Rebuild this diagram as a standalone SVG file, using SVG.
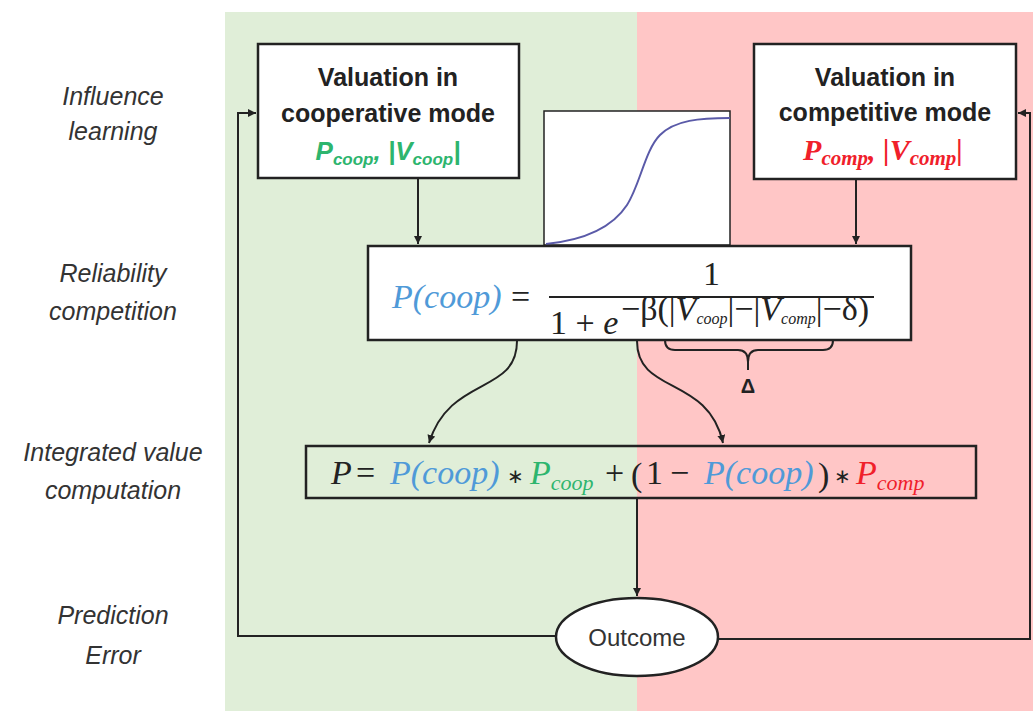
<svg xmlns="http://www.w3.org/2000/svg" width="1033" height="711" viewBox="0 0 1033 711">
<defs>
<marker id="arr" markerUnits="userSpaceOnUse" markerWidth="9" markerHeight="9" refX="8" refY="4" orient="auto">
<path d="M0,0 L8,4 L0,8 z" fill="#222"/>
</marker>
<style>
.box{fill:#fff;stroke:#222;stroke-width:2.5}
.conn{fill:none;stroke:#222;stroke-width:2}
.lbl{font-family:"Liberation Sans",Arial,sans-serif;font-style:italic;font-size:25px;fill:#333;text-anchor:middle}
.ttl{font-family:"Liberation Sans",Arial,sans-serif;font-weight:bold;font-size:25px;fill:#222;text-anchor:middle}
.m{font-family:"Liberation Serif","Times New Roman",serif;font-style:italic;font-size:34px;fill:#222}
.mu{font-family:"Liberation Serif","Times New Roman",serif;font-size:34px;fill:#222}
.ast{font-family:"Liberation Sans",Arial,sans-serif;font-size:20px;fill:#222}
.blue{fill:#4f9ad8}
.green{fill:#2db56e}
.red{fill:#f0202a}
</style>
</defs>
<rect x="0" y="0" width="1033" height="711" fill="#fff"/>
<rect x="225" y="12" width="412" height="699" fill="#e0eed8"/>
<rect x="637" y="12" width="396" height="699" fill="#ffc6c6"/>

<g id="labels">
<text class="lbl" x="113" y="105">Influence</text>
<text class="lbl" x="113" y="140">learning</text>
<text class="lbl" x="113" y="282">Reliability</text>
<text class="lbl" x="113" y="320">competition</text>
<text class="lbl" x="113" y="461">Integrated value</text>
<text class="lbl" x="113" y="499">computation</text>
<text class="lbl" x="113" y="624">Prediction</text>
<text class="lbl" x="113" y="664">Error</text>
</g>

<g id="connectors">
<path class="conn" d="M418,178 V244" marker-end="url(#arr)"/>
<path class="conn" d="M856,180 V244" marker-end="url(#arr)"/>
<path class="conn" d="M517,341 C517,395 450,375 429,443" marker-end="url(#arr)"/>
<path class="conn" d="M637,341 C637,395 708,375 723,443" marker-end="url(#arr)"/>
<path class="conn" d="M637,499 V596" marker-end="url(#arr)"/>
<path class="conn" d="M556,636 H238 V113 H256" marker-end="url(#arr)"/>
<path class="conn" d="M718,639 H1030 V113 H1018" marker-end="url(#arr)"/>
<path class="conn" d="M665,340 Q665,350 675,350 H738 Q748,350 748,362 Q748,350 758,350 H823 Q833,350 833,340"/>
<path class="conn" d="M748,360 V370"/>
</g>

<g id="coop-node">
<rect class="box" x="258" y="44" width="261" height="134"/>
<text class="ttl" x="388" y="86">Valuation in</text>
<text class="ttl" x="388" y="122">cooperative mode</text>
<text x="388" y="160" text-anchor="middle" font-family="Liberation Sans,Arial,sans-serif" font-style="italic" font-weight="bold" font-size="26" class="green">P<tspan font-size="17" dy="5">coop</tspan><tspan dy="-5">, |V</tspan><tspan font-size="17" dy="5">coop</tspan><tspan dy="-5">|</tspan></text>
</g>

<g id="comp-node">
<rect class="box" x="754" y="44" width="262" height="135"/>
<text class="ttl" x="885" y="86">Valuation in</text>
<text class="ttl" x="885" y="121">competitive mode</text>
<text x="883" y="160" text-anchor="middle" font-family="Liberation Serif,Times New Roman,serif" font-style="italic" font-weight="bold" font-size="30" class="red">P<tspan font-size="21" dy="5">comp</tspan><tspan dy="-5">, |V</tspan><tspan font-size="21" dy="5">comp</tspan><tspan dy="-5">|</tspan></text>
</g>

<g id="sigmoid-node">
<rect x="544" y="111" width="186" height="134" fill="#fff" stroke="#222" stroke-width="1.5"/>
<path d="M546,244 C585,240 612,228 627,205 C640,185 645,150 660,135 C675,120 700,118 730,118" fill="none" stroke="#5a5aa8" stroke-width="2"/>
</g>

<g id="pcoop-node">
<rect class="box" x="368" y="246" width="543" height="94"/>
<text class="m blue" x="392" y="308">P(coop)</text>
<text class="mu" x="511" y="308" font-size="32">=</text>
<line x1="549" y1="297" x2="874" y2="297" stroke="#222" stroke-width="2"/>
<text class="mu" x="703" y="285" font-size="31">1</text>
<text class="mu" x="550" y="334" font-size="31">1 + <tspan font-style="italic">e</tspan></text>
<text class="mu" x="621" y="320" font-size="19">−β(|<tspan font-style="italic">V</tspan><tspan font-style="italic" font-size="16" dy="4">coop</tspan><tspan dy="-4">|−|</tspan><tspan font-style="italic">V</tspan><tspan font-style="italic" font-size="16" dy="4">comp</tspan><tspan dy="-4">|−δ)</tspan></text>
<text x="748" y="393" text-anchor="middle" font-family="Liberation Sans,Arial,sans-serif" font-weight="bold" font-size="20" fill="#222">Δ</text>
</g>

<g id="integrated-node">
<rect x="306" y="446" width="670" height="52" fill="none" stroke="#222" stroke-width="2.5"/>
<text class="m" x="331" y="484">P</text>
<text class="mu" x="356" y="484" font-size="32">=</text>
<text class="m blue" x="390" y="484">P(coop)</text>
<text class="ast" x="507" y="483">∗</text>
<text class="m green" x="530" y="484">P<tspan font-size="22" dy="6">coop</tspan></text>
<text class="mu" x="605" y="484" font-size="32">+</text>
<text class="mu" x="631" y="486" font-size="40">(</text>
<text class="mu" x="646" y="484">1</text>
<text class="mu" x="670" y="484" font-size="32">−</text>
<text class="m blue" x="704" y="484">P(coop)</text>
<text class="mu" x="818" y="486" font-size="40">)</text>
<text class="ast" x="834" y="483">∗</text>
<text class="m red" x="856" y="484">P<tspan font-size="22" dy="6">comp</tspan></text>
</g>

<g id="outcome-node">
<ellipse cx="637" cy="637" rx="81" ry="39" fill="#fff" stroke="#222" stroke-width="2.5"/>
<text x="637" y="646" text-anchor="middle" font-family="Liberation Sans,Arial,sans-serif" font-size="24" fill="#333">Outcome</text>
</g>
</svg>
